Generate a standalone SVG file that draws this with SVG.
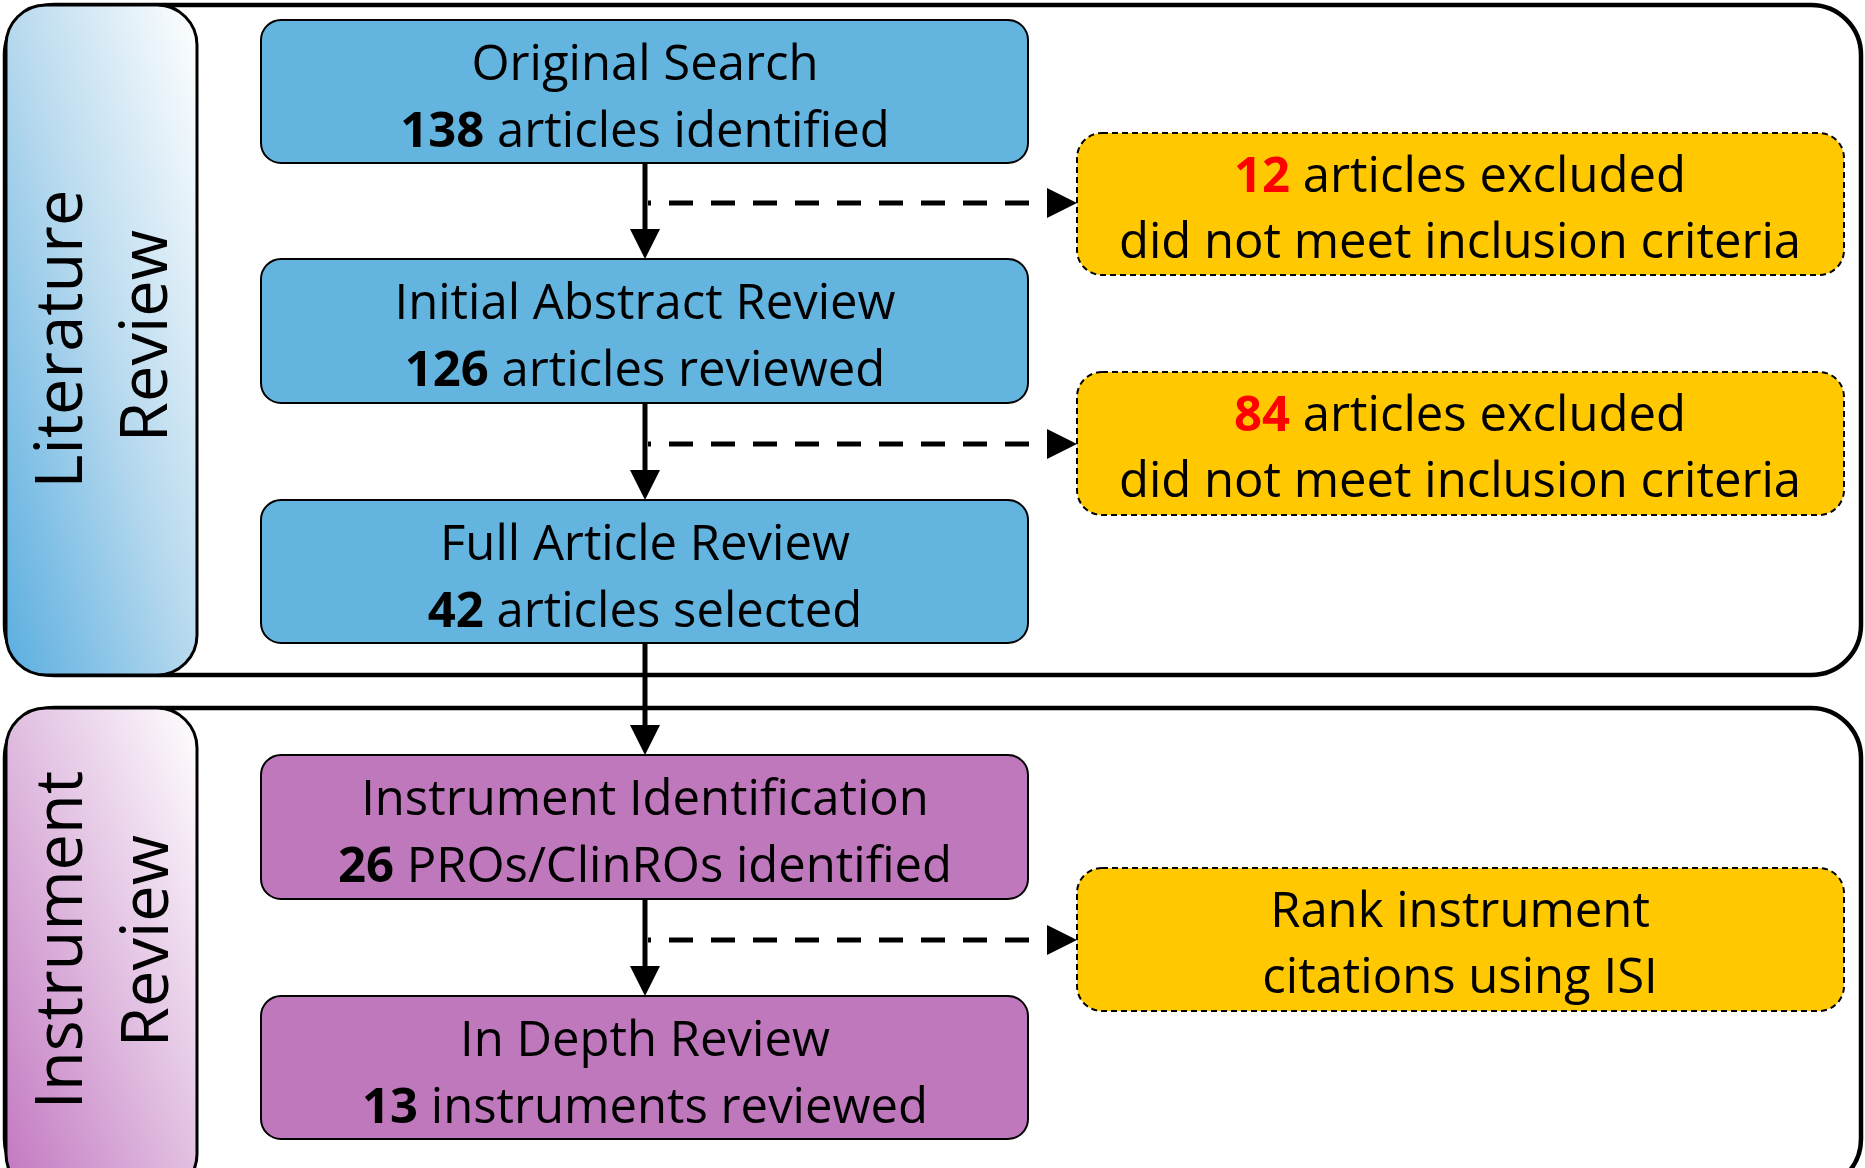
<svg xmlns="http://www.w3.org/2000/svg" width="1865" height="1168" viewBox="0 0 1865 1168">
<style>
.panel{fill:#fff;stroke:#000;stroke-width:4.5}
.lbl{stroke:#000;stroke-width:3}
.blue{fill:#64b4e0;stroke:#000;stroke-width:2}
.purple{fill:#c078bd;stroke:#000;stroke-width:2}
.yellow{fill:#ffc800;stroke:#000;stroke-width:2;stroke-dasharray:6 4}
text{font-family:"Open Sans","Liberation Sans",sans-serif;fill:#000}
.t{font-size:49px;text-anchor:middle}
.side{font-size:65px;text-anchor:middle}
.b{font-weight:700}
.red{fill:#ff0000;font-weight:700}
.solid{stroke:#000;stroke-width:5;fill:none}
.dash{stroke:#000;stroke-width:5;fill:none;stroke-dasharray:24 18;stroke-dashoffset:21}
</style>
<defs>
<linearGradient id="gBlue" x1="0" y1="1" x2="1" y2="0">
<stop offset="0" stop-color="#5aaee0"/>
<stop offset="0.5" stop-color="#b7d9ee"/>
<stop offset="1" stop-color="#ffffff"/>
</linearGradient>
<linearGradient id="gPurple" x1="0" y1="1" x2="1" y2="0">
<stop offset="0" stop-color="#c276c0"/>
<stop offset="0.5" stop-color="#e0bde0"/>
<stop offset="1" stop-color="#ffffff"/>
</linearGradient>
<marker id="headSolid" markerUnits="userSpaceOnUse" viewBox="0 0 30 30" markerWidth="30" markerHeight="30" refX="0" refY="15" orient="auto">
<path d="M0,0 L30,15 L0,30 Z" fill="#000"/>
</marker>
<marker id="headDash" markerUnits="userSpaceOnUse" viewBox="0 0 30 30" markerWidth="30" markerHeight="30" refX="-18" refY="15" orient="auto">
<path d="M0,0 L30,15 L0,30 Z" fill="#000"/>
</marker>
</defs>

<g id="panel-literature">
<rect class="panel" x="5" y="5" width="1856" height="670" rx="50"/>
<rect class="lbl" x="6" y="5" width="191" height="670" rx="40" fill="url(#gBlue)"/>
<text class="side" transform="translate(82,339) rotate(-90)">Literature</text>
<text class="side" transform="translate(167,336) rotate(-90)">Review</text>
</g>

<g id="panel-instrument">
<rect class="panel" x="5" y="708" width="1856" height="481" rx="50"/>
<rect class="lbl" x="6" y="708" width="191" height="486" rx="40" fill="url(#gPurple)"/>
<text class="side" transform="translate(82,940) rotate(-90)">Instrument</text>
<text class="side" transform="translate(168,941) rotate(-90)">Review</text>
</g>

<g id="connectors">
<line class="solid" x1="645" y1="163" x2="645" y2="229" marker-end="url(#headSolid)"/>
<line class="solid" x1="645" y1="403" x2="645" y2="470" marker-end="url(#headSolid)"/>
<line class="solid" x1="645" y1="643" x2="645" y2="725" marker-end="url(#headSolid)"/>
<line class="solid" x1="645" y1="899" x2="645" y2="966" marker-end="url(#headSolid)"/>
<line class="dash" x1="648" y1="203" x2="1029" y2="203" marker-end="url(#headDash)"/>
<line class="dash" x1="648" y1="444" x2="1029" y2="444" marker-end="url(#headDash)"/>
<line class="dash" x1="648" y1="940" x2="1029" y2="940" marker-end="url(#headDash)"/>
</g>

<g id="node-original-search">
<rect class="blue" x="261" y="20" width="767" height="143" rx="20"/>
<text class="t" x="645" y="80">Original Search</text>
<text class="t" x="645" y="147"><tspan class="b">138</tspan> articles identified</text>
</g>

<g id="node-initial-abstract">
<rect class="blue" x="261" y="259" width="767" height="144" rx="20"/>
<text class="t" x="645" y="319">Initial Abstract Review</text>
<text class="t" x="645" y="386"><tspan class="b">126</tspan> articles reviewed</text>
</g>

<g id="node-full-article">
<rect class="blue" x="261" y="500" width="767" height="143" rx="20"/>
<text class="t" x="645" y="560">Full Article Review</text>
<text class="t" x="645" y="627"><tspan class="b">42</tspan> articles selected</text>
</g>

<g id="node-instrument-identification">
<rect class="purple" x="261" y="755" width="767" height="144" rx="20"/>
<text class="t" x="645" y="815">Instrument Identification</text>
<text class="t" x="645" y="882"><tspan class="b">26</tspan> PROs/ClinROs identified</text>
</g>

<g id="node-in-depth">
<rect class="purple" x="261" y="996" width="767" height="143" rx="20"/>
<text class="t" x="645" y="1056">In Depth Review</text>
<text class="t" x="645" y="1123"><tspan class="b">13</tspan> instruments reviewed</text>
</g>

<g id="node-excluded-12">
<rect class="yellow" x="1077" y="133" width="767" height="142" rx="25"/>
<text class="t" x="1460" y="192"><tspan class="red">12</tspan> articles excluded</text>
<text class="t" x="1460" y="258">did not meet inclusion criteria</text>
</g>

<g id="node-excluded-84">
<rect class="yellow" x="1077" y="372" width="767" height="143" rx="25"/>
<text class="t" x="1460" y="431"><tspan class="red">84</tspan> articles excluded</text>
<text class="t" x="1460" y="497">did not meet inclusion criteria</text>
</g>

<g id="node-rank-instrument">
<rect class="yellow" x="1077" y="868" width="767" height="143" rx="25"/>
<text class="t" x="1460" y="927">Rank instrument</text>
<text class="t" x="1460" y="993">citations using ISI</text>
</g>
</svg>
